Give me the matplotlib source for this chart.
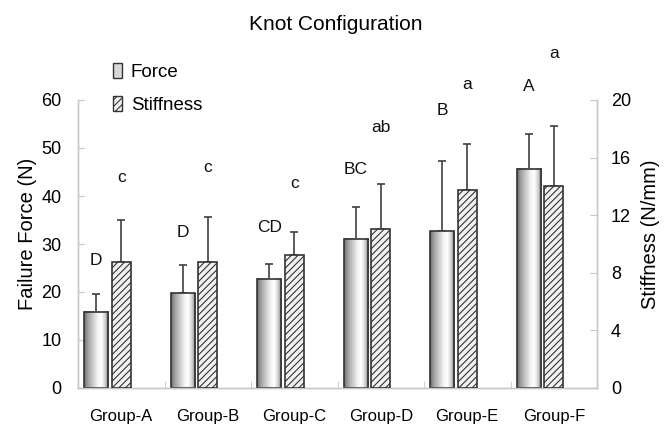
import matplotlib
matplotlib.use("Agg")
import matplotlib.pyplot as plt
import numpy as np
from matplotlib.colors import LinearSegmentedColormap
from matplotlib.patches import Patch

plt.rcParams["font.family"] = ["Liberation Sans", "DejaVu Sans"]
plt.rcParams["hatch.linewidth"] = 0.8

groups = ["Group-A", "Group-B", "Group-C", "Group-D", "Group-E", "Group-F"]
force = [15.9, 19.7, 22.8, 31.1, 32.7, 45.7]
force_err = [3.7, 5.9, 3.0, 6.7, 14.6, 7.2]
stiffness = [8.75, 8.75, 9.24, 11.04, 13.75, 14.05]
stiffness_err = [2.9, 3.15, 1.6, 3.13, 3.2, 4.15]

force_letters = ["D", "D", "CD", "BC", "B", "A"]
stiffness_letters = ["c", "c", "c", "ab", "a", "a"]
# letter heights (force axis units / stiffness axis units)
force_letter_y = [26.6, 32.4, 33.5, 45.6, 57.9, 62.8]
stiffness_letter_y = [14.6, 15.3, 14.2, 18.1, 21.1, 23.2]

EDGE = "#333333"
SPINE = "#c8c8c8"

# cylinder-like shading for the force bars
shade = LinearSegmentedColormap.from_list(
    "cyl",
    [(0.0, "#6e6e6e"), (0.15, "#a0a0a0"), (0.55, "#f4f4f4"),
     (0.7, "#ffffff"), (0.86, "#d0d0d0"), (1.0, "#6a6a6a")],
)

fig = plt.figure(figsize=(6.67, 4.26), dpi=100)
fig.patch.set_facecolor("white")
ax = fig.add_axes([78 / 667, 1 - 388 / 426, 519 / 667, 288 / 426])
ax2 = ax.twinx()

x = np.arange(len(groups))
fw, foff = 0.28, -0.29
sw, soff = 0.22, 0.0

grad = np.linspace(0, 1, 64).reshape(1, -1)
for xi, h in zip(x, force):
    ax.imshow(grad, cmap=shade, aspect="auto", interpolation="bilinear",
              extent=(xi + foff - fw / 2, xi + foff + fw / 2, 0, h), zorder=2)
ax.bar(x + foff, force, width=fw, facecolor="none", edgecolor=EDGE,
       linewidth=1.2, zorder=3)
ax.errorbar(x + foff, force, yerr=[np.zeros(len(force)), force_err],
            fmt="none", ecolor="#404040", elinewidth=1.2, capsize=3,
            capthick=1.2, zorder=1)

ax2.bar(x + soff, stiffness, width=sw, facecolor="#f2f2f2", edgecolor=EDGE,
        hatch="/////", linewidth=1.2, zorder=3)
ax2.errorbar(x + soff, stiffness, yerr=[np.zeros(len(stiffness)), stiffness_err],
             fmt="none", ecolor="#404040", elinewidth=1.2, capsize=3,
             capthick=1.2, zorder=1)

for xi, lab, yy in zip(x, force_letters, force_letter_y):
    ax.text(xi + foff, yy, lab, ha="center", va="center", fontsize=12.5,
            color="#111111", clip_on=False)
for xi, lab, yy in zip(x, stiffness_letters, stiffness_letter_y):
    ax2.text(xi + soff, yy, lab, ha="center", va="center", fontsize=12.5,
             color="#111111", clip_on=False)

ax.set_xlim(-0.5, len(groups) - 0.5)
ax.set_ylim(0, 60)
ax2.set_ylim(0, 20)
ax.set_yticks(np.arange(0, 61, 10))
ax2.set_yticks(np.arange(0, 21, 4))

ax.set_xticks(x)
ax.set_xticklabels(groups, fontsize=12)
ax.set_xticks(np.arange(0.5, len(groups) - 1, 1), minor=True)
ax.tick_params(axis="x", which="major", length=0, pad=15)
ax.tick_params(axis="x", which="minor", direction="in", length=5, color=SPINE)
ax.tick_params(axis="y", direction="in", length=4, color=SPINE, labelsize=13, pad=12)
ax2.tick_params(axis="y", direction="in", length=5, color=SPINE, labelsize=13, pad=10)

for a in (ax, ax2):
    a.spines["top"].set_visible(False)
    for s in ("left", "right", "bottom"):
        a.spines[s].set_color(SPINE)
        a.spines[s].set_linewidth(1.0)

ax.set_ylabel("Failure Force (N)", fontsize=14.5)
ax.yaxis.set_label_coords(-0.079, 0.535)
ax2.set_ylabel("Stiffness (N/mm)", fontsize=14.5)
ax2.yaxis.set_label_coords(1.085, 0.535)

fig.text(336 / 667, 1 - 25 / 426, "Knot Configuration", ha="center",
         va="center", fontsize=15)

handles = [
    Patch(facecolor="#d8d8d8", edgecolor=EDGE, linewidth=1.0, label="Force"),
    Patch(facecolor="#f2f2f2", edgecolor=EDGE, hatch="/////", linewidth=1.0,
          label="Stiffness"),
]
fig.legend(handles=handles, loc="upper left",
           bbox_to_anchor=(113 / 667, 1 - 63 / 426), frameon=False,
           fontsize=13.5, handlelength=0.5, handleheight=0.85,
           handletextpad=0.45, labelspacing=0.8, borderaxespad=0, borderpad=0)

fig.savefig("out.png", dpi=100, facecolor="white")
